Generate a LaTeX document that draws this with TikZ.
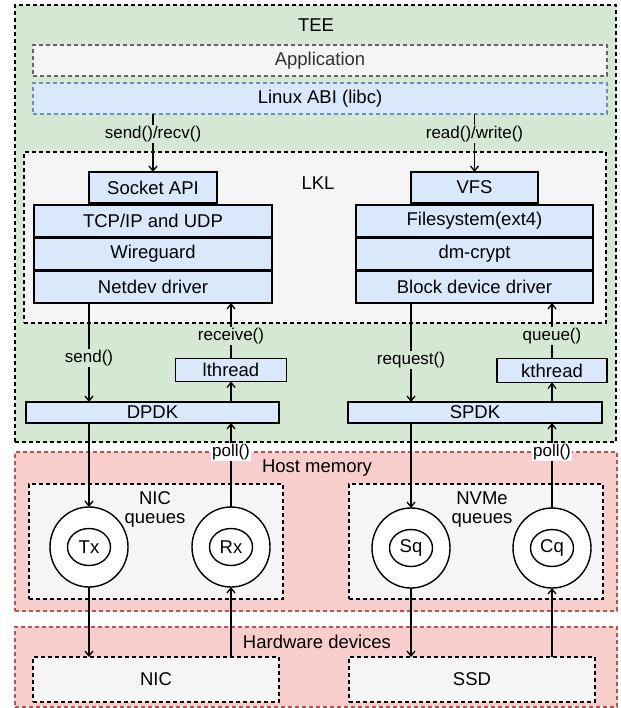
\documentclass[tikz,border=0pt]{standalone}
\usepackage{fontspec}
\setmainfont{Liberation Sans}
\usetikzlibrary{arrows.meta,shapes.geometric}
\definecolor{teegreen}{HTML}{D5E8D4}
\definecolor{hostred}{HTML}{F8CECC}
\definecolor{hostredline}{HTML}{B85450}
\definecolor{lightgrey}{HTML}{F5F5F5}
\definecolor{greyline}{HTML}{666666}
\definecolor{bluefill}{HTML}{DAE8FC}
\definecolor{blueline}{HTML}{6C8EBF}
\definecolor{greytext}{HTML}{333333}
\begin{document}
\begin{tikzpicture}[x=1pt,y=-1pt,
  every node/.style={inner sep=0pt, outer sep=0pt},
  region/.style={draw, dash pattern=on 4pt off 3pt, line width=1.3pt},
  qbox/.style={region, fill=lightgrey},
  blk/.style={draw, fill=bluefill, line width=1.5pt, font=\fontsize{18.5}{22}\selectfont},
  head/.style={font=\fontsize{18.5}{22}\selectfont},
  lbl/.style={font=\fontsize{17}{20}\selectfont, inner sep=1pt},
  ring/.style={ellipse, draw, fill=white, line width=1.4pt, minimum width=78pt, minimum height=80pt},
  core/.style={ellipse, draw, line width=1.4pt, minimum width=43pt, minimum height=37pt, font=\fontsize{18.5}{22}\selectfont},
  arr/.style={-{Straight Barb[length=5pt,width=8pt]}, line width=1.3pt}
]
\useasboundingbox (0,0) rectangle (620,708);

% regions
\node[region, fill=teegreen, minimum width=601pt, minimum height=437pt] (tee) at (315.5,223.5) {};
\node[head] (teelbl) at (316,25) {TEE};
\node[region, draw=hostredline, fill=hostred, minimum width=602pt, minimum height=159pt] (host) at (316,531.5) {};
\node[head] (hostlbl) at (317,468) {Host memory};
\node[region, draw=hostredline, fill=hostred, minimum width=602pt, minimum height=80pt] (hw) at (316,667) {};
\node[head] (hwlbl) at (317,642) {Hardware devices};

% application / ABI
\node[region, draw=greyline, fill=lightgrey, minimum width=574pt, minimum height=31pt, text=greytext, font=\fontsize{18.5}{22}\selectfont] (app) at (320,60.5) {Application};
\node[region, draw=blueline, fill=bluefill, minimum width=574pt, minimum height=31pt, font=\fontsize{18.5}{22}\selectfont] (abi) at (320,98.5) {Linux ABI (libc)};

% LKL
\node[qbox, minimum width=582pt, minimum height=171pt] (lkl) at (315,237.5) {};
\node[head] (lkllbl) at (318,183) {LKL};

\node[blk, minimum width=128pt, minimum height=31pt] (socket) at (153,187.5) {Socket API};
\node[blk, minimum width=238pt, minimum height=32pt] (tcp) at (153,221) {TCP/IP and UDP};
\node[blk, minimum width=238pt, minimum height=32pt] (wg) at (153,254) {Wireguard};
\node[blk, minimum width=238pt, minimum height=32pt] (netdev) at (153,287) {Netdev driver};

\node[blk, minimum width=127pt, minimum height=31pt] (vfs) at (474.5,187.5) {VFS};
\node[blk, minimum width=237pt, minimum height=32pt] (fs) at (474.5,221) {Filesystem(ext4)};
\node[blk, minimum width=237pt, minimum height=32pt] (dm) at (474.5,254) {dm-crypt};
\node[blk, minimum width=237pt, minimum height=32pt] (blkdrv) at (474.5,287) {Block device driver};

% threads and DPDK/SPDK
\node[blk, minimum width=111pt, minimum height=23pt] (lthread) at (231,370) {lthread};
\node[blk, minimum width=110pt, minimum height=24pt] (kthread) at (552,370.5) {kthread};
\node[blk, minimum width=253pt, minimum height=21pt] (dpdk) at (152.5,412.5) {DPDK};
\node[blk, minimum width=254pt, minimum height=21pt] (spdk) at (475,412.5) {SPDK};

% queues
\node[qbox, minimum width=254pt, minimum height=115pt] (nicq) at (156,541.5) {};
\node[head] (nicqlbl1) at (155,498) {NIC};
\node[head] (nicqlbl2) at (155,520) {queues};
\node[qbox, minimum width=254pt, minimum height=115pt] (nvmeq) at (476,541.5) {};
\node[head] (nvmeqlbl1) at (482,498) {NVMe};
\node[head] (nvmeqlbl2) at (482,520) {queues};

\node[ring] (tx) at (89,547) {};
\node[core] (txi) at (tx.center) {Tx};
\node[ring] (rx) at (231,547) {};
\node[core] (rxi) at (rx.center) {Rx};
\node[ring] (sq) at (411,548) {};
\node[core] (sqi) at (sq.center) {Sq};
\node[ring] (cq) at (552,548) {};
\node[core] (cqi) at (cq.center) {Cq};

% devices
\node[qbox, minimum width=246pt, minimum height=45pt, font=\fontsize{18.5}{22}\selectfont] (nic) at (156,679.5) {NIC};
\node[qbox, minimum width=246pt, minimum height=45pt, font=\fontsize{18.5}{22}\selectfont] (ssd) at (472,679.5) {SSD};

% connectors: top
\draw[arr] (abi.south -| socket.north) -- node[lbl, fill=teegreen, pos=0.35] (l1) {send()/recv()} (socket.north);
\draw[arr] (abi.south -| vfs.north) -- node[lbl, fill=teegreen, pos=0.35] (l2) {read()/write()} (vfs.north);

% network path
\draw[arr] (netdev.south -| tx.north) -- node[lbl, fill=teegreen, pos=0.556] (l3) {send()} (dpdk.north -| tx.north);
\draw[arr] (lthread.north) -- node[lbl, fill=teegreen, pos=0.41] (l4) {receive()} (lthread.north |- netdev.south);
\draw[arr] (dpdk.north -| lthread.south) -- (lthread.south);
\draw[arr] (rx.north) -- node[lbl, fill=white, pos=0.655] (l5) {poll()} (rx.north |- dpdk.south);
\draw[arr] (dpdk.south -| tx.north) -- (tx.north);
\draw[arr] (tx.south) -- (tx.south |- nic.north);
\draw[arr] (nic.north -| rx.south) -- (rx.south);

% storage path
\draw[arr] (blkdrv.south -| sq.north) -- node[lbl, fill=teegreen, pos=0.576] (l6) {request()} (spdk.north -| sq.north);
\draw[arr] (kthread.north) -- node[lbl, fill=teegreen, pos=0.4] (l7) {queue()} (kthread.north |- blkdrv.south);
\draw[arr] (spdk.north -| kthread.south) -- (kthread.south);
\draw[arr] (cq.north) -- node[lbl, fill=white, pos=0.655] (l8) {poll()} (cq.north |- spdk.south);
\draw[arr] (spdk.south -| sq.north) -- (sq.north);
\draw[arr] (sq.south) -- (sq.south |- ssd.north);
\draw[arr] (ssd.north -| cq.south) -- (cq.south);
\end{tikzpicture}
\end{document}
